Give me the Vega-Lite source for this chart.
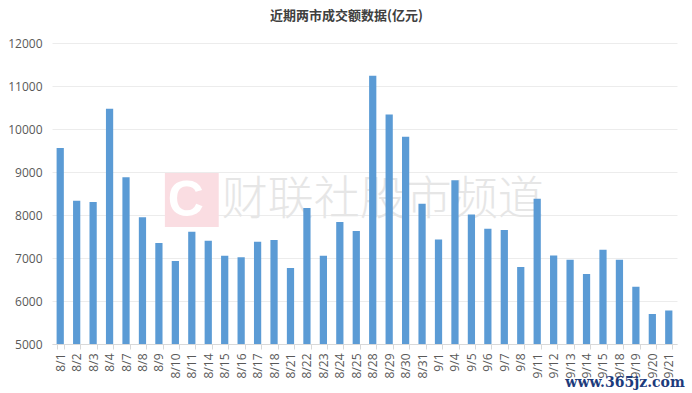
{
  "$schema": "https://vega.github.io/schema/vega-lite/v6.json",
  "autosize": "none",
  "width": 625,
  "height": 301,
  "padding": {"left": 52, "top": 43, "right": 15, "bottom": 49},
  "background": "#ffffff",
  "title": {
    "text": "近期两市成交额数据(亿元)",
    "font": "Noto Sans CJK SC",
    "fontSize": 13,
    "fontWeight": "bold",
    "color": "#404040",
    "anchor": "middle",
    "dx": -18,
    "offset": 14
  },
  "config": {
    "view": {"stroke": null},
    "axis": {"labelFont": "Open Sans", "labelColor": "#595959", "labelFontSize": 12}
  },
  "layer": [
    {
      "data": {"values": [{"date": "8/11", "v": 8350}]},
      "mark": {"type": "point", "shape": "square", "filled": true, "color": "#fadde2", "opacity": 1, "size": 2900, "clip": false},
      "encoding": {
        "x": {"field": "date", "type": "nominal", "sort": null},
        "y": {"field": "v", "type": "quantitative"}
      }
    },
    {
      "data": {"values": [{"date": "8/11", "v": 8350, "t": "C"}]},
      "mark": {"type": "text", "font": "Liberation Sans", "fontWeight": "bold", "fontSize": 50, "color": "#ffffff", "dx": -6, "dy": 1, "baseline": "middle", "align": "center"},
      "encoding": {
        "x": {"field": "date", "type": "nominal", "sort": null},
        "y": {"field": "v", "type": "quantitative"},
        "text": {"field": "t"}
      }
    },
    {
      "data": {"values": [{"date": "8/15", "v": 8350, "t": "财联社股市频道"}]},
      "mark": {"type": "text", "font": "Noto Sans CJK SC", "fontWeight": 300, "fontSize": 46, "color": "#e6e6e6", "dx": -3, "baseline": "middle", "align": "left"},
      "encoding": {
        "x": {"field": "date", "type": "nominal", "sort": null},
        "y": {"field": "v", "type": "quantitative"},
        "text": {"field": "t"}
      }
    },
    {
      "data": {
        "values": [
          {"date": "8/1", "v": 9560},
          {"date": "8/2", "v": 8330},
          {"date": "8/3", "v": 8300},
          {"date": "8/4", "v": 10470},
          {"date": "8/7", "v": 8880},
          {"date": "8/8", "v": 7950},
          {"date": "8/9", "v": 7350},
          {"date": "8/10", "v": 6930},
          {"date": "8/11", "v": 7610},
          {"date": "8/14", "v": 7400},
          {"date": "8/15", "v": 7050},
          {"date": "8/16", "v": 7020},
          {"date": "8/17", "v": 7380},
          {"date": "8/18", "v": 7420},
          {"date": "8/21", "v": 6770},
          {"date": "8/22", "v": 8160},
          {"date": "8/23", "v": 7050},
          {"date": "8/24", "v": 7840},
          {"date": "8/25", "v": 7630},
          {"date": "8/28", "v": 11240},
          {"date": "8/29", "v": 10340},
          {"date": "8/30", "v": 9820},
          {"date": "8/31", "v": 8260},
          {"date": "9/1", "v": 7430},
          {"date": "9/4", "v": 8810},
          {"date": "9/5", "v": 8010},
          {"date": "9/6", "v": 7680},
          {"date": "9/7", "v": 7650},
          {"date": "9/8", "v": 6790},
          {"date": "9/11", "v": 8380},
          {"date": "9/12", "v": 7060},
          {"date": "9/13", "v": 6960},
          {"date": "9/14", "v": 6630},
          {"date": "9/15", "v": 7190},
          {"date": "9/18", "v": 6960},
          {"date": "9/19", "v": 6330},
          {"date": "9/20", "v": 5700},
          {"date": "9/21", "v": 5780}
        ]
      },
      "mark": {"type": "bar", "color": "#5B9BD5", "clip": true},
      "encoding": {
        "x": {
          "field": "date",
          "type": "nominal",
          "sort": null,
          "scale": {
            "domain": ["8/1","8/2","8/3","8/4","8/7","8/8","8/9","8/10","8/11","8/14","8/15","8/16","8/17","8/18","8/21","8/22","8/23","8/24","8/25","8/28","8/29","8/30","8/31","9/1","9/4","9/5","9/6","9/7","9/8","9/11","9/12","9/13","9/14","9/15","9/18","9/19","9/20","9/21"],
            "paddingInner": 0.56,
            "paddingOuter": 0.28
          },
          "axis": {
            "title": null,
            "labelAngle": -90,
            "labelAlign": "right",
            "labelBaseline": "middle",
            "labelPadding": 4,
            "domainColor": "#d9d9d9",
            "tickColor": "#d9d9d9",
            "tickSize": 5,
            "tickBand": "extent",
            "grid": false
          }
        },
        "y": {
          "field": "v",
          "type": "quantitative",
          "scale": {"domain": [5000, 12000], "nice": false, "zero": false},
          "axis": {
            "title": null,
            "values": [5000, 6000, 7000, 8000, 9000, 10000, 11000, 12000],
            "domain": false,
            "ticks": false,
            "labelPadding": 10,
            "gridColor": "#ececec",
            "format": "d"
          }
        }
      }
    },
    {
      "data": {"values": [{"date": "9/21", "v": 4090, "t": "www.365jz.com"}]},
      "mark": {"type": "text", "font": "DejaVu Serif", "fontWeight": "bold", "fontSize": 14, "color": "#1d3b7c", "dx": 16, "baseline": "middle", "align": "right", "clip": false},
      "encoding": {
        "x": {"field": "date", "type": "nominal", "sort": null},
        "y": {"field": "v", "type": "quantitative"},
        "text": {"field": "t"}
      }
    }
  ]
}
